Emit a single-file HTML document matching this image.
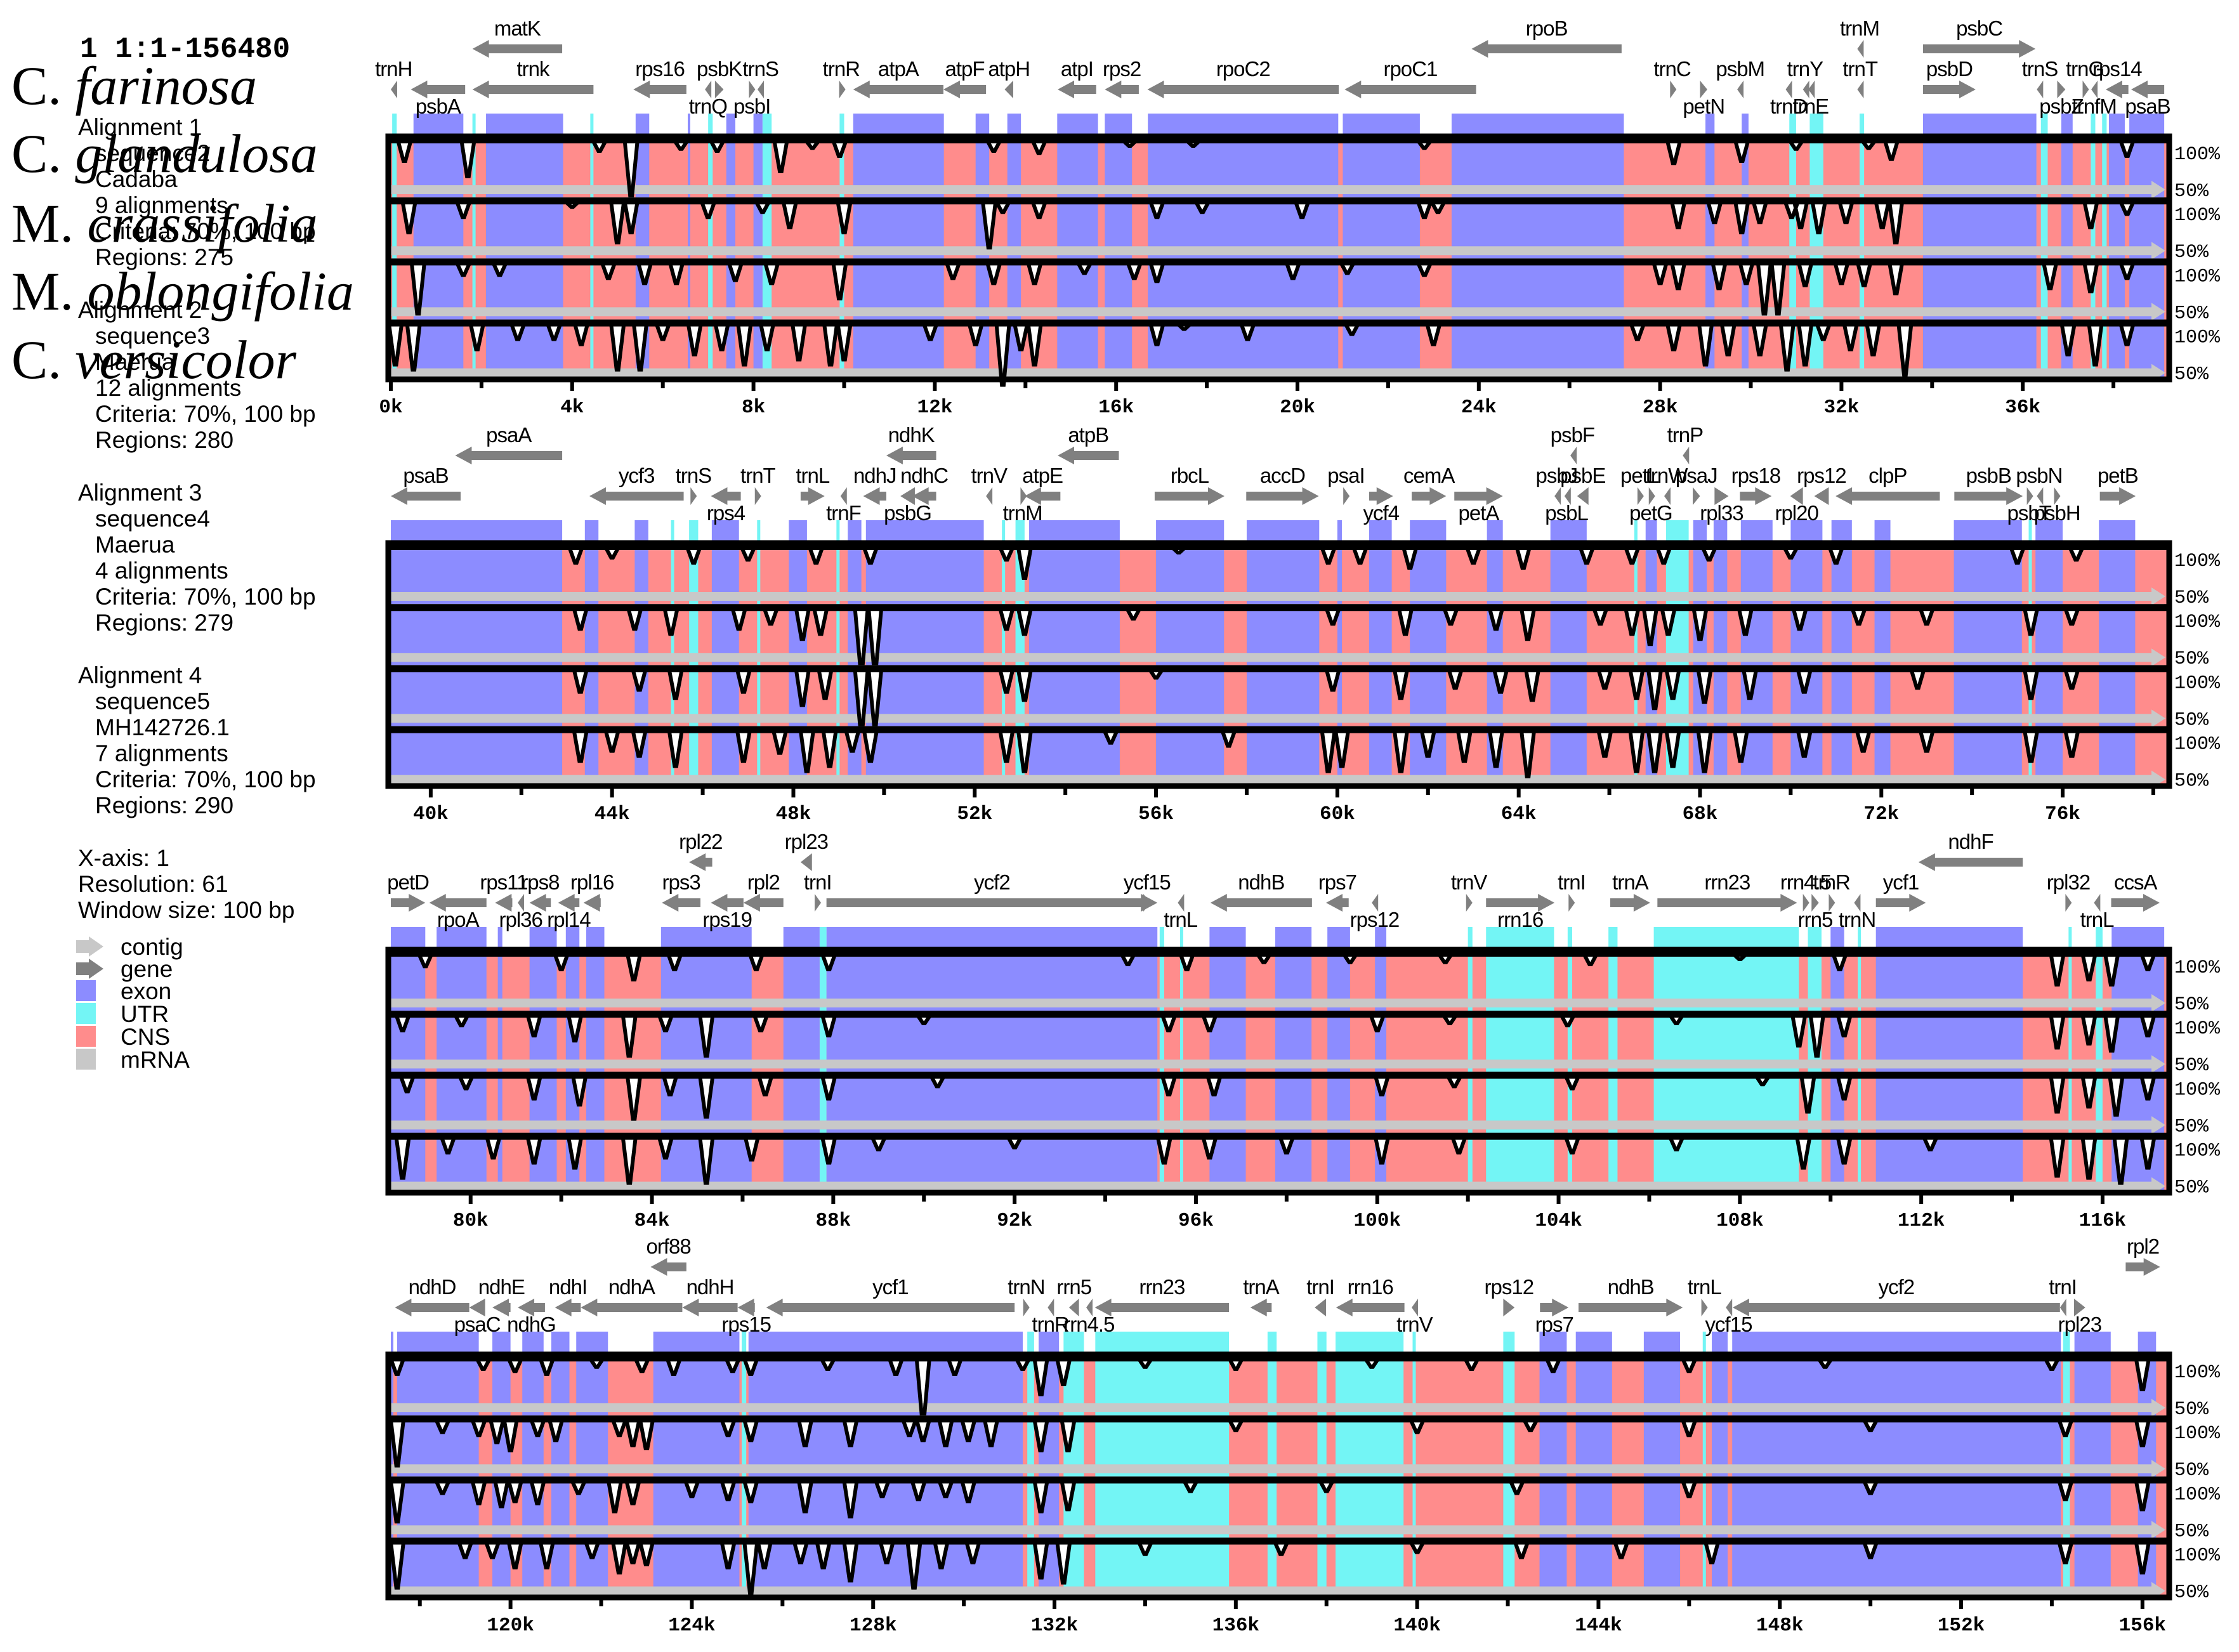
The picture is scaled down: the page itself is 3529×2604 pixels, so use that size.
<!DOCTYPE html>
<html><head><meta charset="utf-8"><style>
html,body{margin:0;padding:0;background:#fff;}
svg{display:block;}
</style></head><body>
<svg id="chart" xmlns="http://www.w3.org/2000/svg" width="3529" height="2604" viewBox="0 0 3529 2604">
<rect x="0" y="0" width="3529" height="2604" fill="#fff"/>
<g id="left" font-family="Liberation Sans, sans-serif" font-size="37" fill="#000">
<text x="126" y="90" font-family="Liberation Mono, monospace" font-weight="bold" font-size="46">1 1:1-156480</text>
<text x="123" y="213">Alignment 1</text>
<text x="150" y="254">sequence2</text>
<text x="150" y="295">Cadaba</text>
<text x="150" y="336">9 alignments</text>
<text x="150" y="377">Criteria: 70%, 100 bp</text>
<text x="150" y="418">Regions: 275</text>
<text x="123" y="501">Alignment 2</text>
<text x="150" y="542">sequence3</text>
<text x="150" y="583">Maerua</text>
<text x="150" y="624">12 alignments</text>
<text x="150" y="665">Criteria: 70%, 100 bp</text>
<text x="150" y="706">Regions: 280</text>
<text x="123" y="789">Alignment 3</text>
<text x="150" y="830">sequence4</text>
<text x="150" y="871">Maerua</text>
<text x="150" y="912">4 alignments</text>
<text x="150" y="953">Criteria: 70%, 100 bp</text>
<text x="150" y="994">Regions: 279</text>
<text x="123" y="1077">Alignment 4</text>
<text x="150" y="1118">sequence5</text>
<text x="150" y="1159">MH142726.1</text>
<text x="150" y="1200">7 alignments</text>
<text x="150" y="1241">Criteria: 70%, 100 bp</text>
<text x="150" y="1282">Regions: 290</text>
<text x="123" y="1365">X-axis: 1</text>
<text x="123" y="1406">Resolution: 61</text>
<text x="123" y="1447">Window size: 100 bp</text>
<g><polygon points="120,1482 140,1482 140,1476 163,1492 140,1508 140,1502 120,1502" fill="#c8c8c8"/><text x="190" y="1505">contig</text></g>
<g><polygon points="120,1517 140,1517 140,1511 163,1527 140,1543 140,1537 120,1537" fill="#808080"/><text x="190" y="1540">gene</text></g>
<g><rect x="120" y="1545" width="31" height="33" fill="#8c8cff"/><text x="190" y="1575">exon</text></g>
<g><rect x="120" y="1581" width="31" height="33" fill="#73f5f5"/><text x="190" y="1611">UTR</text></g>
<g><rect x="120" y="1617" width="31" height="33" fill="#ff8c8c"/><text x="190" y="1647">CNS</text></g>
<g><rect x="120" y="1653" width="31" height="33" fill="#c8c8c8"/><text x="190" y="1683">mRNA</text></g>
</g>
<g id="plots"></g>
<g id="species" font-family="Liberation Serif, serif" font-size="86" fill="#000">
<text x="18" y="164">C. <tspan font-style="italic">farinosa</tspan></text>
<text x="18" y="271">C. <tspan font-style="italic">glandulosa</tspan></text>
<text x="18" y="381">M. <tspan font-style="italic">crassifolia</tspan></text>
<text x="18" y="488">M. <tspan font-style="italic">oblongifolia</tspan></text>
<text x="18" y="596">C. <tspan font-style="italic">versicolor</tspan></text>
</g>
</svg>
<script>
// ---- data (kb) ----
const rowLength = 39.12;
const exonStart = [0.5,2.1,5.4,6.55,7.4,8.0,10.2,12.9,13.6,14.7,15.75,16.7,21.0,23.4,29.0,29.8,33.8,36.85,37.9,38.35,
 39.12,43.4,44.5,46.2,47.9,49.2,49.6,53.2,56.0,58.0,60.0,60.7,61.6,63.3,64.7,66.8,67.85,68.3,68.9,70.0,70.9,71.85,73.6,75.4,76.8,
 78.24,79.25,80.6,81.3,82.1,82.55,84.2,86.9,87.85,96.3,97.75,98.9,99.95,110.0,111.0,116.2,
 117.5,119.6,120.26,120.9,121.45,123.15,125.25,131.65,142.7,143.5,145.0,146.5,146.95,154.5,155.9];
const exonEnd = [1.6,3.8,5.7,6.6,7.6,8.2,12.2,13.2,13.9,15.6,16.35,20.9,22.7,27.2,29.2,29.95,36.3,37.1,38.25,39.12,
 42.9,43.7,44.8,46.8,48.3,49.5,52.2,55.2,57.5,59.6,60.1,61.2,62.4,63.65,65.5,67.05,68.15,68.6,69.6,70.7,71.35,72.2,75.1,76.0,77.6,
 79.0,80.35,80.7,81.9,82.4,82.95,86.2,87.7,95.15,97.1,98.55,99.4,100.2,110.3,114.24,117.4,
 119.3,120.0,120.73,121.3,122.15,125.05,131.3,132.1,143.3,144.3,145.8,146.85,154.2,155.3,156.3];
const utrStart = [0.03,1.8,4.4,7.0,8.2,9.9,30.85,31.3,32.4,36.4,37.5,37.75,
 45.3,45.7,47.2,48.95,52.6,52.9,66.55,67.25,75.25,
 87.7,95.2,95.65,102.0,102.4,104.2,105.1,106.1,109.5,110.6,115.25,115.85,
 125.1,131.4,132.2,132.9,136.7,137.8,138.2,139.9,141.9,146.3,154.25];
const utrEnd = [0.13,1.87,4.47,7.1,8.4,10.0,31.0,31.6,32.5,36.55,37.6,37.85,
 45.37,45.9,47.27,49.02,52.67,53.1,66.62,67.75,75.32,
 87.85,95.3,95.72,102.1,103.9,104.3,105.3,109.3,109.8,110.67,115.32,116.0,
 125.2,131.55,132.65,135.85,136.9,138.0,139.7,139.97,142.15,146.37,154.4];

const geneName = ["matK","rpoB","trnM","psbC","trnH","psbA","trnk","rps16","trnQ","psbK","psbI","trnS","trnR","atpA","atpF","atpH","atpI","rps2","rpoC2","rpoC1","trnC","petN","psbM","trnD","trnY","trnE","trnT","psbD","trnS","psbZ","trnG","trnfM","rps14","psaB",
 "psaA","ndhK","atpB","psbF","trnP","psaB","ycf3","trnS","rps4","trnT","trnL","trnF","ndhJ","ndhC","psbG","trnV","trnM","atpE","rbcL","accD","psaI","ycf4","cemA","petA","psbJ","psbL","psbE","petL","petG","trnW","psaJ","rpl33","rps18","rpl20","rps12","clpP","psbB","psbT","psbN","psbH","petB",
 "rpl22","rpl23","ndhF","petD","rpoA","rps11","rpl36","rps8","rpl14","rpl16","rps3","rps19","rpl2","trnI","ycf2","ycf15","trnL","ndhB","rps7","rps12","trnV","rrn16","trnI","trnA","rrn23","rrn4.5","rrn5","trnR","trnN","ycf1","rpl32","trnL","ccsA",
 "orf88","rpl2","ndhD","psaC","ndhE","ndhG","ndhI","ndhA","ndhH","rps15","ycf1","trnN","trnR","rrn5","rrn4.5","rrn23","trnA","trnI","rrn16","trnV","rps12","rps7","ndhB","trnL","ycf15","ycf2","trnI","rpl23"];
const geneStart = [1.80,23.84,32.35,33.80,0.0,0.44,1.80,5.35,6.93,7.15,7.9,8.09,9.89,10.2,12.19,13.54,14.71,15.75,16.69,21.04,28.22,28.88,29.7,30.77,31.15,31.27,32.35,33.80,36.31,36.76,37.32,37.51,37.83,38.39,
 40.54,50.05,53.83,65.14,67.62,39.12,43.5,45.73,46.18,47.15,48.16,49.04,49.54,50.62,50.36,52.25,53.01,53.1,55.97,57.99,60.13,60.7,61.64,62.58,64.79,65.01,65.29,66.62,66.87,67.21,67.84,68.32,68.88,69.99,70.52,70.99,73.61,75.21,75.43,75.81,76.82,
 84.82,87.28,111.94,78.24,79.09,80.54,81.04,81.3,81.93,82.49,84.22,85.3,86.02,87.59,87.85,94.84,95.6,96.32,98.87,99.88,101.96,102.4,104.22,105.14,106.18,109.39,109.58,109.96,110.52,111.0,115.18,115.81,116.19,
 123.09,155.63,117.45,119.09,119.6,120.16,120.98,121.55,123.79,125.01,125.64,131.31,131.85,132.32,132.7,132.89,136.32,137.74,138.21,139.88,141.9,142.71,143.56,146.27,146.81,146.96,154.18,154.49];
const geneEnd = [3.78,27.15,32.45,36.28,0.12,1.64,4.47,6.52,7.06,7.34,8.03,8.22,9.98,12.19,13.13,13.73,15.56,16.5,20.91,23.94,28.31,29.04,29.83,30.9,31.24,31.37,32.47,34.96,36.44,36.94,37.42,37.64,38.33,39.12,
 42.9,51.15,55.18,65.23,67.72,40.66,45.58,45.86,46.84,47.28,48.69,49.17,50.05,51.15,50.68,52.38,53.1,53.89,57.51,59.59,60.25,61.23,62.4,63.65,64.88,65.1,65.54,66.71,66.96,67.31,68.0,68.63,69.58,70.27,70.84,73.29,75.12,75.31,75.53,75.94,77.61,
 85.33,87.53,114.24,79.0,80.35,80.92,81.17,81.77,82.4,82.87,85.07,86.02,86.9,87.72,95.15,95.0,95.72,98.56,99.37,100.0,102.08,103.91,104.35,106.02,109.26,109.51,109.74,110.08,110.65,112.1,115.31,115.94,117.26,
 123.88,156.39,119.09,119.44,120.0,120.76,121.55,123.79,125.01,125.39,131.12,131.44,131.97,132.54,132.82,135.85,136.79,137.99,139.72,140.0,142.15,143.34,145.86,146.4,146.93,154.18,154.3,154.74];
const geneStrand = [-1,-1,-1,1,-1,-1,-1,-1,-1,1,1,-1,1,-1,-1,-1,-1,-1,-1,-1,1,1,-1,-1,-1,-1,-1,1,-1,1,1,-1,-1,-1,
 -1,-1,-1,-1,-1,-1,-1,1,-1,1,1,-1,-1,-1,-1,-1,1,-1,1,1,1,1,1,1,-1,-1,-1,1,1,-1,1,1,1,-1,-1,-1,1,1,-1,1,1,
 -1,-1,-1,1,-1,-1,-1,-1,-1,-1,-1,-1,-1,1,1,1,-1,-1,-1,-1,1,1,1,1,1,1,1,1,-1,1,1,-1,1,
 -1,1,-1,-1,-1,-1,-1,-1,-1,-1,-1,1,-1,-1,-1,-1,-1,-1,-1,-1,1,1,1,1,-1,-1,-1,1];
const labelLevel = [1,1,1,1,2,3,2,2,3,2,3,2,2,2,2,2,2,2,2,2,2,3,2,3,2,3,2,2,2,3,2,3,2,3,
 1,1,1,1,1,2,2,2,3,2,2,3,2,2,3,2,3,2,2,2,2,3,2,3,2,3,2,2,3,2,2,3,2,3,2,2,2,3,2,3,2,
 1,1,1,2,3,2,3,2,3,2,2,3,2,2,2,2,3,2,2,3,2,3,2,2,2,2,3,2,3,2,2,3,2,
 1,1,2,3,2,3,2,2,2,3,2,2,3,2,3,2,2,2,2,3,2,3,2,2,3,2,2,3];

// conservation dips per track [position kb, identity %]; elsewhere 100%
const track1Pos = [0.3,1.7,4.6,5.3,6.4,7.2,8.6,9.3,9.9,13.3,14.3,16.3,17.7,22.8,28.3,29.8,31.0,32.6,33.1,38.3,
 43.2,44.0,45.8,47.0,48.5,49.7,52.7,53.1,56.5,59.8,60.5,61.6,63.0,64.1,65.5,66.5,67.2,68.2,70.0,71.0,75.0,76.3,
 79.0,82.0,83.6,84.5,86.3,87.9,94.5,95.8,97.5,99.4,101.5,104.7,108.0,110.2,115.0,115.7,116.2,117.0,
 117.5,119.4,120.1,120.8,121.9,122.9,123.6,124.9,125.3,127.0,128.5,129.1,129.8,131.3,131.7,132.2,134.0,136.0,139.0,141.2,143.0,146.0,149.0,154.0,156.0];
const track1Val = [80,65,90,45,92,90,70,93,85,90,88,95,95,93,78,80,92,93,82,85,
 85,90,85,88,85,85,88,70,95,85,85,80,85,80,85,85,85,88,90,85,85,88,
 88,85,75,85,85,85,90,85,92,92,92,90,95,85,70,75,70,85,
 85,90,88,85,92,88,85,88,85,90,85,40,85,90,65,75,92,90,92,90,88,88,92,90,70];
const track2Pos = [0.4,1.6,4.0,5.0,5.3,7.0,8.2,8.8,10.0,13.2,13.5,14.3,16.9,17.9,20.1,22.8,23.1,28.4,29.2,29.8,30.2,30.9,31.1,31.5,32.1,32.9,33.2,37.5,38.3,
 43.3,44.5,45.3,46.8,47.5,48.2,48.6,49.5,49.8,52.7,53.1,55.5,59.9,61.5,62.5,63.5,64.2,65.8,66.5,66.9,67.3,68.0,69.0,70.2,71.5,73.0,75.3,76.2,
 78.5,79.8,81.4,82.3,83.5,84.3,85.2,86.4,87.9,90.0,95.4,96.3,100.0,101.6,104.2,106.6,109.3,109.7,110.3,115.0,115.7,116.2,117.0,
 117.5,118.5,119.3,119.7,120.0,120.6,121.0,122.4,122.7,123.0,124.8,125.3,126.5,127.5,128.8,129.1,129.6,130.1,130.6,131.7,132.3,136.0,140.0,142.5,146.0,150.0,154.3,156.0];
const track2Val = [70,85,95,60,70,85,90,75,70,55,90,85,85,90,85,85,90,75,80,70,80,85,75,70,80,75,60,75,88,
 80,80,75,80,85,70,75,40,40,80,75,90,85,75,85,80,70,85,75,65,75,70,75,80,85,85,75,85,
 85,90,80,75,60,85,60,85,80,92,85,85,85,92,90,92,70,60,80,68,72,65,80,
 55,88,85,78,70,85,80,85,75,72,85,80,75,75,85,80,75,80,75,70,70,90,88,90,85,90,85,75];
const track3Pos = [0.6,1.6,2.4,4.8,5.6,6.3,7.6,8.4,9.9,12.4,13.3,14.2,15.3,16.4,16.9,19.9,21.1,22.8,28.0,28.4,29.3,29.9,30.3,30.6,31.2,32.0,32.5,33.2,36.6,37.5,38.3,
 43.3,44.6,45.4,46.9,48.2,48.7,49.5,49.8,52.7,53.1,56.0,59.9,61.4,62.6,63.6,64.3,65.9,66.6,67.0,67.4,68.1,69.1,70.3,72.8,75.3,76.2,
 78.6,79.9,81.4,82.4,83.6,84.4,85.2,86.5,87.9,90.3,95.4,96.4,100.1,101.7,104.3,108.5,109.5,110.3,115.0,115.7,116.3,117.0,
 117.5,118.5,119.3,119.8,120.1,120.6,121.5,122.3,122.7,124.0,124.8,125.3,126.5,127.5,128.2,129.0,129.6,130.1,131.7,132.3,135.0,138.0,142.2,146.0,150.0,154.3,156.0];
const track3Val = [50,88,88,85,80,80,83,80,65,85,80,80,90,85,82,85,90,88,80,75,75,80,50,50,78,80,78,70,75,72,85,
 78,80,72,78,65,72,40,45,78,70,92,80,72,82,78,70,82,72,62,72,68,72,78,82,72,82,
 85,88,78,72,58,82,60,82,78,90,82,82,82,90,88,92,65,78,65,70,62,78,
 60,88,78,75,80,78,88,70,78,85,82,80,70,65,85,82,85,80,70,72,90,90,88,85,88,82,72];
const track4Pos = [0.1,0.5,1.9,2.8,3.6,4.2,5.0,5.5,6.0,6.7,7.3,7.8,8.3,9.0,9.7,10.0,11.9,12.9,13.5,13.9,14.2,16.9,17.5,18.9,21.2,23.0,27.5,28.3,29.0,29.5,30.2,30.8,31.2,31.6,32.2,32.7,33.4,37.0,37.6,38.3,
 43.3,44.0,44.6,45.4,46.9,47.7,48.3,48.8,49.3,49.7,52.7,53.1,55.0,57.6,59.8,60.1,61.4,62.0,62.8,63.5,64.2,65.9,66.6,67.0,67.4,68.1,68.9,70.3,71.6,73.0,75.3,76.2,
 78.5,79.5,80.5,81.4,82.3,83.5,84.3,85.2,86.2,87.9,89.0,92.0,95.3,96.3,98.0,100.1,101.8,104.3,106.6,109.4,110.3,112.2,115.0,115.7,116.4,117.0,
 117.5,119.0,119.6,120.1,120.8,121.8,122.4,122.7,123.0,124.8,125.3,125.6,126.4,126.9,127.5,128.3,128.9,129.5,130.2,131.7,132.2,134.0,137.0,140.0,142.3,144.5,146.5,150.0,154.3,156.0];
const track4Val = [60,55,75,85,85,80,55,55,85,70,75,60,75,65,60,65,85,80,40,75,60,80,95,85,90,80,85,75,60,70,70,55,60,85,75,70,50,70,60,80,
 70,80,75,65,70,78,60,65,80,70,70,60,88,85,60,65,60,75,70,65,55,75,60,60,65,60,70,75,80,80,70,75,
 60,85,80,75,70,55,80,55,78,75,88,90,75,80,85,75,85,85,88,70,75,88,62,60,55,70,
 55,85,85,75,75,85,70,80,78,75,50,75,80,75,62,80,55,75,80,65,60,88,88,90,85,85,80,85,80,70];
const xTickStep = 2; // kb
const yLabels = ["100%","50%"];

// ---- layout ----
const NS = "http://www.w3.org/2000/svg";
const plots = document.getElementById('plots');
const rowTops = [215, 856, 1497, 2135];
const X0 = 616, PXK = 71.45, BOXL = 608, BOXR = 3419;
const SUB = 96.2, BOXH = 387, DIPW = 0.14;
const COL = {exon:"#8c8cff", utr:"#73f5f5", cns:"#ff8c8c", bar:"#c8c8c8", gene:"#808080"};
function el(tag, attrs, parent){ const e=document.createElementNS(NS,tag); for(const k in attrs) e.setAttribute(k,attrs[k]); (parent||plots).appendChild(e); return e; }
function xs(kb,r){ return X0 + (kb - r*rowLength)*PXK; }
function ys(pct,y0){ return y0 + 7 + (100-pct)/50*80; }
const tracksPos=[track1Pos,track2Pos,track3Pos,track4Pos], tracksVal=[track1Val,track2Val,track3Val,track4Val];

for(let r=0;r<4;r++){
  const T=rowTops[r], rs=r*rowLength, re=rs+rowLength;
  const g=el('g',{});  
  const bg=el('rect',{x:BOXL,y:T,width:BOXR-BOXL,height:BOXH,fill:COL.cns},g);
   
  function segs(S,E,color,name){
    for(let i=0;i<S.length;i++){
      const a=Math.max(S[i],rs), b=Math.min(E[i],re); if(b<=a) continue;
      const x=xs(a,r), w=Math.max(xs(b,r)-x,4);
      const s1=el('rect',{x:x,y:T-36,width:w,height:36,fill:color},g);
       
      const s2=el('rect',{x:x,y:T,width:w,height:BOXH,fill:color},g);
       
    }
  }
  segs(exonStart,exonEnd,COL.exon,'exon');
  segs(utrStart,utrEnd,COL.utr,'utr');
  for(let t=0;t<4;t++){
    const y0=T+t*SUB;
    const P=tracksPos[t], V=tracksVal[t];
    const pts=[[xs(rs,r),ys(100,y0)]];
    for(let i=0;i<P.length;i++){ if(P[i]<rs||P[i]>re) continue;
      pts.push([xs(P[i]-DIPW,r),ys(100,y0)]); pts.push([xs(P[i]-0.02,r),ys(V[i],y0)]); pts.push([xs(P[i]+0.02,r),ys(V[i],y0)]); pts.push([xs(P[i]+DIPW,r),ys(100,y0)]); }
    pts.push([xs(re,r),ys(100,y0)]);
    const ptStr=pts.map(p=>p[0].toFixed(1)+','+p[1].toFixed(1)).join(' ');
    const wf=el('polygon',{points:xs(rs,r)+','+y0+' '+ptStr+' '+xs(re,r)+','+y0,fill:'#fff'},g);
     
    const cb=el('polygon',{points:`${BOXL+6},${y0+77} ${BOXR-28},${y0+77} ${BOXR-28},${y0+70} ${BOXR-6},${y0+84} ${BOXR-28},${y0+98} ${BOXR-28},${y0+91} ${BOXL+6},${y0+91}`,fill:COL.bar},g);
     
    const band=el('rect',{x:BOXL,y:y0,width:BOXR-BOXL,height:11,fill:'#000'},g);
     
    const ln=el('polyline',{points:ptStr,fill:'none',stroke:'#000','stroke-width':6,'stroke-linejoin':'miter'},g);
     
    const l1=el('text',{x:3427,y:y0+36,'font-family':'Liberation Mono, monospace','font-size':30},g); l1.textContent=yLabels[0];
     
    const l2=el('text',{x:3427,y:y0+94,'font-family':'Liberation Mono, monospace','font-size':30},g); l2.textContent=yLabels[1];
     
  }
  const box=el('rect',{x:BOXL+4,y:T,width:BOXR-BOXL-4,height:BOXH-4,fill:'none',stroke:'#000','stroke-width':9},g);
   
  for(let k=Math.ceil(rs/xTickStep)*xTickStep;k<=re;k+=xTickStep){
    const x=xs(k,r), major=(Math.round(k)%4===0);
    const tk=el('rect',{x:x-3,y:T+BOXH-4,width:6,height:major?18:14,fill:'#000'},g);
     
    if(major){ const tl=el('text',{x:x,y:T+BOXH+48,'text-anchor':'middle','font-family':'Liberation Mono, monospace','font-weight':'bold','font-size':31},g);
      tl.textContent=Math.round(k)+'k';   }
  }
}
for(let i=0;i<geneName.length;i++){
  const r=Math.min(3,Math.floor((geneStart[i]+0.001)/rowLength)); const T=rowTops[r];
  const x1=xs(geneStart[i],r), x2=xs(geneEnd[i],r);
  const lv=labelLevel[i]; const cy = lv===1 ? T-138 : T-74;
  const w=x2-x1; let pts;
  if(w<26){ const ww=Math.max(w,10);
    pts = geneStrand[i]>0 ? `${x1},${cy-14} ${x1+ww},${cy} ${x1},${cy+14}` : `${x1+ww},${cy-14} ${x1},${cy} ${x1+ww},${cy+14}`;
  } else if(geneStrand[i]>0){
    pts=`${x1},${cy-7} ${x2-26},${cy-7} ${x2-26},${cy-14} ${x2},${cy} ${x2-26},${cy+14} ${x2-26},${cy+7} ${x1},${cy+7}`;
  } else {
    pts=`${x2},${cy-7} ${x1+26},${cy-7} ${x1+26},${cy-14} ${x1},${cy} ${x1+26},${cy+14} ${x1+26},${cy+7} ${x2},${cy+7}`;
  }
  const ar=el('polygon',{points:pts,fill:COL.gene});
   
  const ly = lv===1 ? T-159 : (lv===2 ? T-95 : T-36);
  const tx=el('text',{x:(x1+x2)/2,y:ly,'text-anchor':'middle','font-family':'Liberation Sans, sans-serif','font-size':33,'letter-spacing':'-1',fill:'#000'});
  tx.textContent=geneName[i];
   
}
document.getElementById('chart').appendChild(document.getElementById('species'));
</script>
</body></html>
